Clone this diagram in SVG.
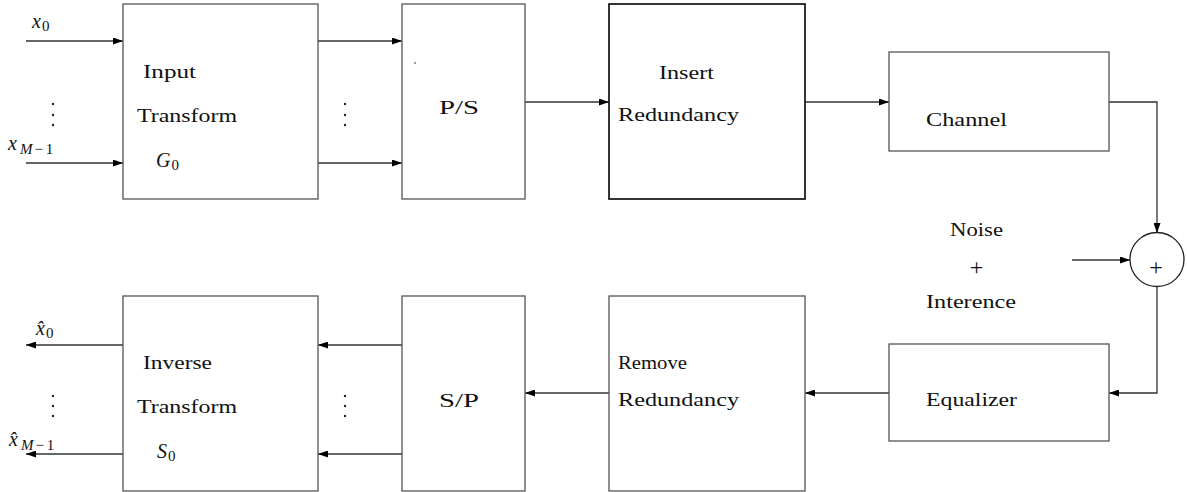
<svg xmlns="http://www.w3.org/2000/svg" width="1187" height="492" viewBox="0 0 1187 492">
<style>
.box{fill:#fff;stroke:#555;stroke-width:1.3}
.box2{fill:#fff;stroke:#111;stroke-width:1.7}
.t{font-family:'Liberation Serif','DejaVu Serif','Times New Roman',serif;font-size:19px;fill:#111}
.m{font-family:'Liberation Serif','DejaVu Serif','Times New Roman',serif;font-size:20px;font-style:italic;fill:#111}
.p{font-family:'Liberation Serif','DejaVu Serif','Times New Roman',serif;font-size:24px;fill:#111}
.s{font-size:15px;font-style:normal}
.si{font-size:15px}
.c{fill:none;stroke:#333;stroke-width:1.3;marker-end:url(#ah)}
.dot{fill:#222}
</style>
<defs>
<marker id="ah" markerUnits="userSpaceOnUse" viewBox="0 0 10 7" refX="10" refY="3.5" markerWidth="10" markerHeight="7" orient="auto">
<path d="M0,0 L10,3.5 L0,7 z" fill="#000"/>
</marker>
</defs>
<rect width="1187" height="492" fill="#fff"/>

<g id="connectors">
<path class="c" d="M26,41 H123"/>
<path class="c" d="M26,163 H123"/>
<path class="c" d="M318,41 H402"/>
<path class="c" d="M318,163 H402"/>
<path class="c" d="M525,102 H609"/>
<path class="c" d="M805,102 H889"/>
<path class="c" d="M1109,102 H1157 V233"/>
<path class="c" d="M1072,260 H1130"/>
<path class="c" d="M1157,286 V393 H1109"/>
<path class="c" d="M889,393 H805"/>
<path class="c" d="M609,393 H525"/>
<path class="c" d="M402,345 H318"/>
<path class="c" d="M402,454 H318"/>
<path class="c" d="M123,345 H26"/>
<path class="c" d="M123,454 H26"/>
</g>

<g id="inputs">
<text class="m" x="32" y="28">x<tspan class="s" dx="1" dy="3">0</tspan></text>
<text class="m" x="8" y="150">x<tspan class="si" dx="3" dy="4">M</tspan><tspan class="s" dx="2">−</tspan><tspan class="s" dx="3">1</tspan></text>
<circle class="dot" cx="53" cy="104" r="1.2"/>
<circle class="dot" cx="53" cy="115" r="1.2"/>
<circle class="dot" cx="53" cy="125" r="1.2"/>
</g>

<g id="input-transform">
<rect class="box" x="123" y="4" width="195" height="195"/>
<text class="t" x="143" y="78" textLength="53" lengthAdjust="spacingAndGlyphs">Input</text>
<text class="t" x="137" y="122" textLength="100" lengthAdjust="spacingAndGlyphs">Transform</text>
<text class="m" x="156" y="167">G<tspan class="s" dx="1" dy="3">0</tspan></text>
</g>

<g id="dots-top">
<circle class="dot" cx="345" cy="104" r="1.2"/>
<circle class="dot" cx="345" cy="115" r="1.2"/>
<circle class="dot" cx="345" cy="125" r="1.2"/>
</g>

<g id="ps">
<rect class="box" x="402" y="4" width="123" height="195"/>
<circle class="dot" cx="415" cy="63" r="0.8"/>
<text class="t" x="439" y="114" textLength="40" lengthAdjust="spacingAndGlyphs">P/S</text>
</g>

<g id="insert-redundancy">
<rect class="box2" x="609" y="4" width="196" height="195"/>
<text class="t" x="659" y="79" textLength="55" lengthAdjust="spacingAndGlyphs">Insert</text>
<text class="t" x="618" y="121" textLength="121" lengthAdjust="spacingAndGlyphs">Redundancy</text>
</g>

<g id="channel">
<rect class="box" x="889" y="52" width="220" height="99"/>
<text class="t" x="926" y="126" textLength="81" lengthAdjust="spacingAndGlyphs">Channel</text>
</g>

<g id="noise">
<text class="t" x="950" y="236" textLength="53" lengthAdjust="spacingAndGlyphs">Noise</text>
<text class="p" x="976.5" y="275" text-anchor="middle">+</text>
<text class="t" x="926" y="308" textLength="90" lengthAdjust="spacingAndGlyphs">Interence</text>
</g>

<g id="adder">
<circle cx="1157" cy="259.5" r="27" fill="#fff" stroke="#222" stroke-width="1.3"/>
<text class="p" x="1156" y="275" text-anchor="middle">+</text>
</g>

<g id="equalizer">
<rect class="box" x="889" y="344" width="220" height="97"/>
<text class="t" x="926" y="406" textLength="91" lengthAdjust="spacingAndGlyphs">Equalizer</text>
</g>

<g id="remove-redundancy">
<rect class="box" x="609" y="296" width="196" height="195"/>
<text class="t" x="618" y="369" textLength="69" lengthAdjust="spacingAndGlyphs">Remove</text>
<text class="t" x="618" y="406" textLength="121" lengthAdjust="spacingAndGlyphs">Redundancy</text>
</g>

<g id="sp">
<rect class="box" x="402" y="296" width="123" height="195"/>
<text class="t" x="439" y="407" textLength="40" lengthAdjust="spacingAndGlyphs">S/P</text>
</g>

<g id="dots-bottom">
<circle class="dot" cx="345" cy="396" r="1.2"/>
<circle class="dot" cx="345" cy="406" r="1.2"/>
<circle class="dot" cx="345" cy="416" r="1.2"/>
</g>

<g id="inverse-transform">
<rect class="box" x="123" y="296" width="195" height="195"/>
<text class="t" x="143" y="369" textLength="69" lengthAdjust="spacingAndGlyphs">Inverse</text>
<text class="t" x="137" y="413" textLength="100" lengthAdjust="spacingAndGlyphs">Transform</text>
<text class="m" x="157" y="458">S<tspan class="s" dx="1" dy="3">0</tspan></text>
</g>

<g id="outputs">
<text class="m" x="36" y="335">x̂<tspan class="s" dx="1" dy="3">0</tspan></text>
<text class="m" x="9" y="446">x̂<tspan class="si" dx="3" dy="4">M</tspan><tspan class="s" dx="2">−</tspan><tspan class="s" dx="3">1</tspan></text>
<circle class="dot" cx="53" cy="396" r="1.2"/>
<circle class="dot" cx="53" cy="406" r="1.2"/>
<circle class="dot" cx="53" cy="416" r="1.2"/>
</g>
</svg>
